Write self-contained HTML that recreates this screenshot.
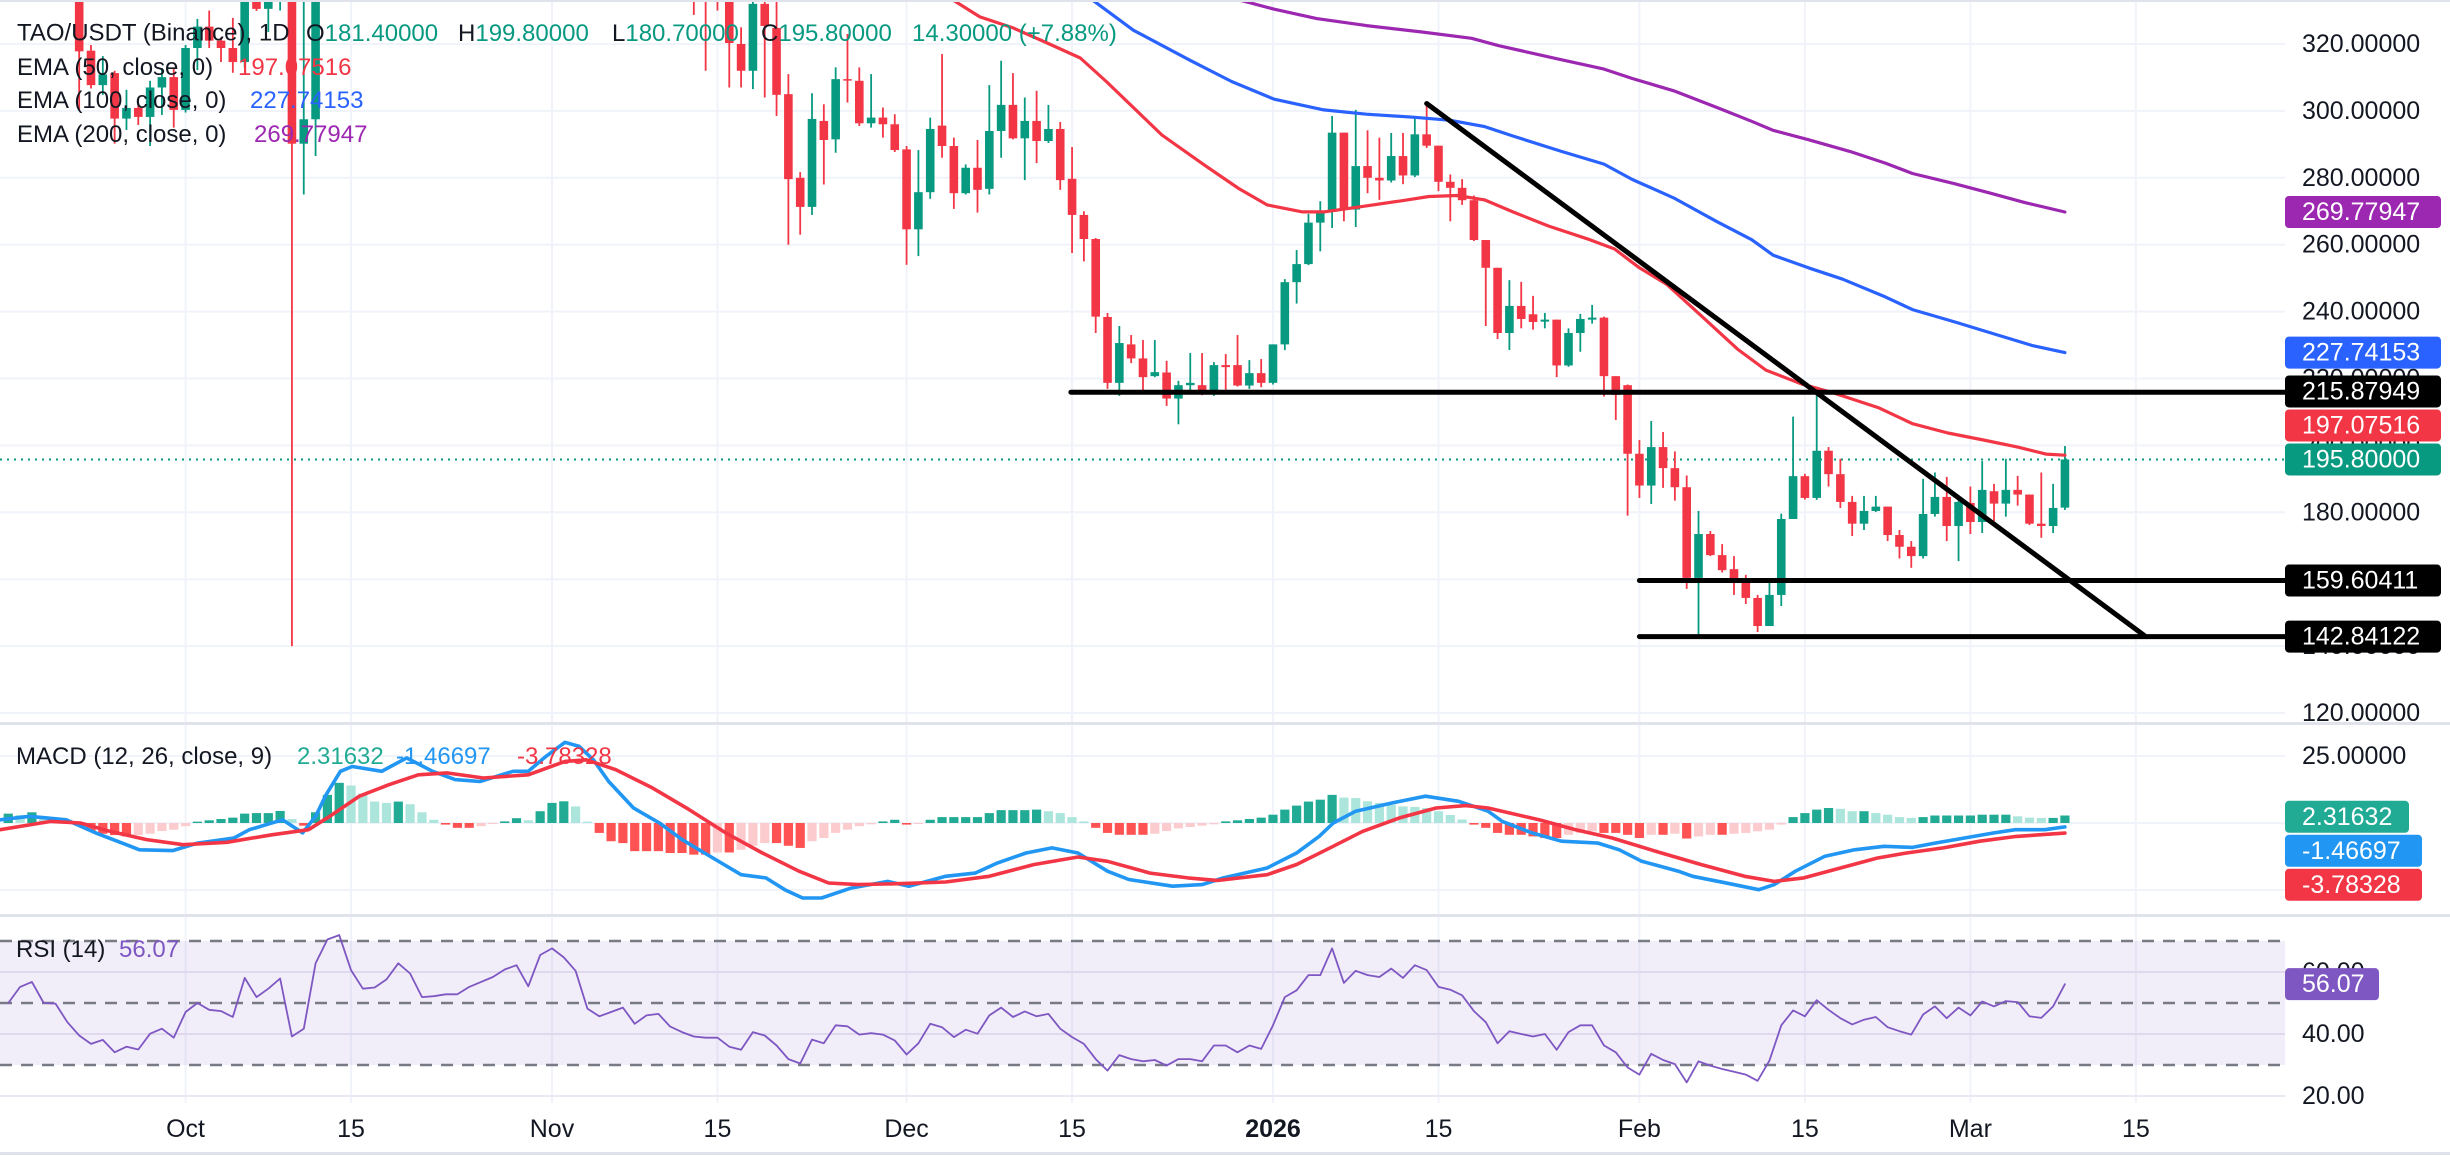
<!DOCTYPE html>
<html><head><meta charset="utf-8"><title>TAO/USDT 1D</title>
<style>
html,body{margin:0;padding:0;background:#fff;}
svg{display:block;font-family:"Liberation Sans",Arial,sans-serif;}
</style></head>
<body>
<svg id="chart" width="2450" height="1156" viewBox="0 0 2450 1156" xmlns="http://www.w3.org/2000/svg">
<rect x="0" y="0" width="2450" height="1156" fill="#ffffff"/>
<g id="grid"></g>
<g id="rsiband"></g>
<g id="plot"></g>
<g id="axes"></g>
<g id="legend">
  <text x="17" y="33" font-size="24" fill="#131722" dominant-baseline="central">TAO/USDT (Binance), 1D</text>
  <text y="33" font-size="24" dominant-baseline="central"><tspan x="306" fill="#131722">O</tspan><tspan fill="#089981">181.40000</tspan><tspan x="458" fill="#131722">H</tspan><tspan fill="#089981">199.80000</tspan><tspan x="612" fill="#131722">L</tspan><tspan fill="#089981">180.70000</tspan><tspan x="761" fill="#131722">C</tspan><tspan fill="#089981">195.80000</tspan><tspan x="912" fill="#089981">14.30000 (+7.88%)</tspan></text>
  <text y="67" font-size="24" dominant-baseline="central"><tspan x="17" fill="#131722">EMA (50, close, 0)</tspan><tspan x="238" fill="#f23645">197.07516</tspan></text>
  <text y="100" font-size="24" dominant-baseline="central"><tspan x="17" fill="#131722">EMA (100, close, 0)</tspan><tspan x="250" fill="#2962ff">227.74153</tspan></text>
  <text y="134" font-size="24" dominant-baseline="central"><tspan x="17" fill="#131722">EMA (200, close, 0)</tspan><tspan x="254" fill="#9c27b0">269.77947</tspan></text>
  <text y="756" font-size="24" dominant-baseline="central"><tspan x="16" fill="#131722">MACD (12, 26, close, 9)</tspan><tspan x="297" fill="#22ab94">2.31632</tspan><tspan x="396" fill="#2196f3">-1.46697</tspan><tspan x="517" fill="#f23645">-3.78328</tspan></text>
  <text y="949" font-size="24" dominant-baseline="central"><tspan x="16" fill="#131722">RSI (14)</tspan><tspan x="119" fill="#7e57c2">56.07</tspan></text>
</g>
<g id="tags"></g>
</svg>
<script>
// ---- data (day index 0 = 2026-01-01) ----
const firstDay = -107;
const opens = [360,352,358,355,346,344,340,318,307.7,311.3,297.7,300.9,298.2,307,310.1,300.3,318.8,325.2,321,318.8,314.6,338,330.5,336,340,290.2,297.5,345,352,365,372,368,380,395,388,402,410,398,405,392,385,396,405,412,400,395,388,398,410,418,405,392,380,372,385,378,366,358,350,345,345,338,320,312,332,324.8,305,280,271.3,297,291.5,309.5,309,296.3,298,296,288.5,264.6,275.7,295.6,289.5,275.4,283,276.7,294,301.8,291.8,297,291,294.6,279.7,268.9,261.7,238.4,218.7,230.2,226,220.7,221.8,214,218,218,215.4,224,224,217.9,221.6,218.7,230.2,248.8,254.2,266.6,269.8,293.5,270.5,283.5,280,279.2,286.5,280.7,293,289.6,278.8,277,273.3,261.4,253.1,233.6,241.7,239.2,237,237.6,223.9,233.6,237.6,238.2,220.7,218,197.5,188,199.5,193.2,187.5,160.4,173.5,167.2,163,159.2,154.4,146,155.3,178,190.8,184.3,198.4,191.4,183.1,176.6,180.4,181.7,173.2,169.7,166.9,179.5,184.6,175.9,182.8,177.1,186.3,182.6,186.7,185.3,176.6,175.9,181.4];
const highs = [372,362,366,360,352,350,342,319.7,316.4,312,306.3,301.8,309,312.8,312.5,319.7,327.5,330,322,327.8,340,342,340,345,350,338,350,358,370,378,376,386,400,398,408,416,414,410,408,396,400,410,418,416,404,398,402,414,424,420,408,396,384,390,388,382,370,362,360,352,350,342,325,333,333,333,311,281.7,305.3,302,313,323,313,311,301,299,289.5,288.3,298,317,292,284,291.3,307.7,315,311.3,304,306,301.8,296.7,289.2,270,262,239.6,235.7,233,231.5,231.5,225.3,219.3,227.6,227.6,224.9,227.3,233,225.5,225.8,230.2,249.7,258.4,269.2,273,298.5,293.5,300.3,294.2,292,293.4,293.4,297.9,302.3,289.6,281,279.6,274.7,261.4,253.1,249.4,248.9,244.7,239.6,237.6,235,239.3,242,238.5,220.7,218.2,201.6,207.3,204,198.2,191,180.4,174.4,170.5,166.9,161.3,155.3,159.2,179.6,208.6,191.5,215.1,199.5,196,184.9,184.9,184.9,181.7,174.7,171.4,190,191.9,190.6,184.9,187.7,195.3,188.5,196,190.9,185.3,191.9,188.5,199.8];
const lows = [348,345,350,342,338,336,300.3,306.7,304.8,290.2,294.3,295.8,289.5,298.8,295,299.5,312.2,318.8,314.6,311.4,313,329.9,323.6,330,140,275,286.5,340,348,360,362,364,376,382,384,398,392,394,388,380,382,392,400,396,390,384,384,394,406,400,388,376,366,368,372,362,354,344,328.7,312,330,307,307,306.5,304,298.5,260,263,268.9,278,287.5,302.5,295.5,295,292,287.7,254,256.6,273.7,286,270.7,275,269.6,275,286,291.5,279.3,284.4,290.4,276.4,257.5,255,233.6,216.9,214.8,224.6,216,220.4,211.8,206.3,216.3,215,214.8,216.6,217.6,216.9,217.4,218.2,228.5,242.4,253.9,258,265,267,265.3,275.4,273.4,278.6,278.1,280.2,288.9,276,267,271.9,261.1,235.7,231.8,228.5,235,234.6,235,220.4,223.5,228,236.4,214.6,207.6,179,184.3,182.5,187.3,183.5,157.1,143.2,166.9,162,155.3,152.6,144.2,146,152,178,183.8,183.7,187.7,181.3,172.9,174.7,180.1,171.4,166.2,163.4,166.2,178.7,171.4,165.4,173.5,173.8,177.4,178.7,182,176.2,172.4,173.8,180.7];
const closes = [352,358,355,346,344,340,317.8,307.7,310.9,297.7,300.9,298.2,307,310.1,300.3,318.8,325.2,321,318.8,314.6,336,330.5,336,340,290.2,297.5,345,352,365,372,368,380,395,388,402,410,398,405,392,385,396,405,412,400,395,388,398,410,418,405,392,380,372,385,378,366,358,350,340,338,338,320.3,312,332,325.4,304.8,279.6,271.3,297.6,291.3,309.5,309.3,296.3,298,296,288.3,264.6,275.7,294.6,289.5,275.4,283,276.4,294,301.8,291.8,297,291,294.6,279.3,268.9,261.7,238.5,218.7,230.6,226,220.4,221.9,214,218,218.7,215.4,224,223.4,217.9,221.6,218.7,230.2,248.8,254.2,266.6,269.8,293.5,270.5,283.5,280,279.2,286.5,280.7,293,289.6,278.8,277,273.3,261.4,253.1,233.6,241.7,237.8,236.9,237.6,223.9,233.6,237.8,238.2,220.7,215.1,197.5,188,199.5,193.2,187.5,160.4,173.5,167.2,162.7,159.2,154.4,146,155.3,178,190.8,184.3,198.4,191.4,183.1,176.6,180.4,181.7,173.2,169.7,166.9,179.5,184.6,175.9,183.1,177.1,186.7,182.6,186.7,185.3,176.6,175.9,181.3,195.8];

const ema50Days = [-27.1,-24.8,-22,-19.1,-16.3,-14.1,-9.4,-5.8,-2.9,-0.5,2.5,4.3,7.3,10.8,13.2,15.6,17.9,20.3,23.3,26.8,28.9,31,33.3,36.3,39.3,41.7,44.7,47.6,51.2,54.1,57.1,60.1,63,65.4,67];
const ema50Vals = [333.2,328.1,324.8,320.3,315.8,308.8,292.8,283.8,276.8,271.9,269.8,269.8,271.3,273.1,274.4,274.7,273.4,269.8,265.6,261.5,258.7,253.1,248.2,238.5,228.8,222.5,218.4,215.5,211.3,206.5,203.7,201.6,199.5,197.4,197.08];
const ema100Days = [-15.3,-11.8,-7,-3.5,0.1,4.3,7.9,12,15,17.9,20.3,24.4,28,30.4,33.9,37.5,40.5,42.3,45.3,48.2,51.8,54.1,57.7,61.3,64.2,67];
const ema100Vals = [333.2,324.1,315.1,308.8,303.5,300.3,299,298.1,297.2,295.3,292.5,287.9,284.1,279.5,274,267,261.5,256.9,253.1,249.7,244.4,240.6,236.9,233,229.9,227.74];
const ema200Days = [-2.9,0.1,3.7,7.9,12.6,16.8,19.1,23.9,28,30.4,33.9,37.5,40.5,42.3,45.3,48.8,51.8,54.1,57.7,60.7,63.6,67];
const ema200Vals = [333.2,330.4,327.6,325.5,323.6,321.7,319.5,315.7,312.5,309.7,306,301.1,296.9,294.2,291.4,287.9,284.4,281.3,278.2,275.4,272.6,269.78];

const macdDays = [-107.7,-105.2,-102.1,-99.6,-95.9,-93.1,-91,-87.9,-86.6,-83.8,-82.1,-81,-80.1,-78.9,-77.9,-75.4,-73.3,-71.1,-69.2,-67.1,-64.3,-63,-61.5,-59.9,-58.7,-57.5,-56.2,-54.1,-51.9,-50,-48.1,-45,-42.9,-41.3,-39.8,-38.2,-35.7,-32.6,-30.8,-27.7,-25.2,-23.3,-20.9,-18.7,-16.5,-14,-12.2,-8.5,-6,-4.2,-0.5,2,3.9,5.1,7,10.1,12.9,15.7,18.2,19.4,21.9,24.4,27.5,29.3,31.2,34.3,35.5,38,41.1,42.4,44.2,46.7,49.2,51.7,54.1,56,58.5,61,62.8,65.3,67];
const macdVals = [1.2,2.5,1.2,-3.7,-10,-10.3,-7.5,-5.6,-2.5,1.2,-3.7,2.5,10.6,19.3,21.1,19.3,24.3,19.3,16.2,15.5,19.3,19.3,24.9,30.1,28.6,23.6,15.5,5.6,0,-6.2,-11.2,-19.3,-20.5,-24.9,-28,-28,-24.3,-21.8,-23.6,-19.9,-18.7,-14.9,-11.2,-9.3,-11.2,-18,-21.1,-23.6,-23,-20.5,-16.8,-11.2,-5,0,4.4,7.5,10,8.1,4.4,0.6,-3.7,-6.8,-7.5,-10,-14.3,-18,-19.9,-22.1,-24.9,-23,-18,-12.4,-10,-8.7,-9.1,-7.5,-5.6,-3.7,-2.5,-2.5,-1.47];
const signalDays = [-107.7,-103.4,-100.9,-98.4,-95.3,-92.2,-88.5,-84.7,-81.6,-79.8,-77.3,-74.8,-72.3,-69.9,-66.8,-63,-59.9,-58.1,-55.6,-52.5,-49.4,-46.3,-43.2,-40.1,-37.6,-35.1,-31.4,-27.7,-24,-20.2,-16.5,-14,-10.4,-7.2,-4.7,-0.5,2,4.5,7.6,10.7,13.8,16.3,18.2,22.5,25.6,28.7,32.4,36.2,39.9,42.4,44.9,48,51.1,53.6,56.7,59.8,62.9,67];
const signalVals = [-2.5,0.6,0,-3.1,-6.2,-8.1,-7.2,-4.4,-2.5,2.5,10,14.3,18,18.7,16.8,18,23,23.6,19.9,13.1,5,-3.7,-11.2,-18,-22.4,-23,-22.6,-22,-19.9,-15.5,-12.7,-14.3,-18.7,-20.5,-21.4,-19.3,-15.5,-10,-3.1,1.9,5.6,6.5,5.6,1.2,-2.5,-5.6,-10.6,-15.5,-19.9,-21.8,-20.5,-16.8,-13.1,-11.2,-9.3,-6.8,-5,-3.78];
const histVals = [3.5,3,4,2.5,1.5,0.5,-1,-3,-4,-4.5,-5,-4.5,-4,-3,-2.5,-1.2,0.5,1,1.5,2,3.5,3.7,3.7,4.5,1.5,-1,4,10.5,15,14,11,8,7.5,8,7,4,1.2,-0.6,-1.8,-1.8,-1.2,-0.4,0.6,1.8,1,4.4,7.5,8.1,6.2,0.5,-3.7,-6.8,-7.5,-10.5,-10.5,-10.5,-11.2,-11.2,-11.8,-11.8,-11,-11,-10,-8.5,-7.5,-7.5,-8.5,-9.3,-6.8,-5.6,-3.7,-2.5,-1.2,-0.5,0.6,1.2,-0.6,-0.3,1.2,2.2,2.2,2.2,2.2,3.7,4.8,4.8,4.8,5,4.4,3.7,2.2,0.6,-1.8,-3.7,-4.4,-4.4,-4.4,-4,-3,-2,-1.5,-1,-0.5,0.6,1,1.5,2,3.1,5,6.5,8,8.7,10.5,9.5,9.3,8.1,7.5,6.8,6.2,6,5.6,4.4,3,1.3,-0.6,-1.8,-3.7,-4.4,-4.4,-5,-5.6,-5.6,-4.4,-3.7,-3.1,-3.7,-3.7,-4.4,-5.6,-4.4,-4.4,-4,-5.8,-5,-4.4,-4.4,-4,-3.7,-3.1,-2.5,-0.6,2.2,3.7,5,5.6,5.3,4.4,4.4,3.7,3.1,2.2,1.9,2.2,2.8,2.8,2.8,2.8,3.1,3.1,3.1,2.5,2,1.9,1.9,2.8];
const rsiVals = [50,55.2,56.8,50,49.8,43.8,39.5,36.8,38.1,34.1,35.9,35,40.1,41.7,38.8,47.1,50,47.8,47.4,45.5,58.1,51.9,54.6,57.9,39.2,41.7,62.8,70.5,71.9,60.6,54.6,55,57.6,62.8,59.5,51.9,52.2,52.8,52.8,55.2,56.8,58.4,60.8,62.2,55.4,65.5,67.6,64.7,60.4,48.2,45.7,47.1,48.5,43.3,46,46.5,42.4,40.6,39.2,38.8,38.8,35.9,34.9,40.6,39.5,36.3,31.9,30.5,38.2,37,42.8,42.5,39.8,40.3,39.8,37.9,33.4,37,43.3,42.2,39,41.4,40.1,46,48.5,45.5,47.3,45.7,46.5,41.7,39,36.8,31.9,28.2,33.2,31.9,31.2,31.6,29.8,31.9,31.9,31.2,36.3,36.3,34.1,36.3,35.2,42.8,51.9,54.1,59,59,67.6,56.5,60.4,59,58.4,61.1,58.1,62.2,60.6,55.2,54.3,52.5,47.4,43.8,37,40.9,40,39.2,40,34.9,40.6,42.8,42.8,36.3,34.1,29.2,26.9,33.6,31.6,30.3,24.4,31.2,29.8,28.7,27.8,26.9,24.9,31.4,42.8,47.6,45.7,50.9,47.8,45.1,43.1,44.6,45.5,42.2,40.9,39.8,46.3,48.9,45.1,48.5,46,50.5,48.9,50.6,50.3,45.7,45.2,48.9,56.07];

const priceTicks = [320,300,280,260,240,220,200,180,160,140,120];
const macdTicks = [25,0,-25];
const rsiTicks = [60,40,20];
const rsiLevels = [70,50,30];
const dateTickDays = [-92,-78,-61,-47,-31,-17,0,14,31,45,59,73];
const dateTickLabels = ["Oct","15","Nov","15","Dec","15","2026","15","Feb","15","Mar","15"];

const hLevels = [215.87949,159.60411,142.84122];
const hLevelStartDays = [-17.1,31,31];
const trendDays = [13.0,73.7];
const trendPrices = [302.2,143.2];
const lastPrice = 195.8;

// ---- scales ----
const PLOT_R = 2285;
const xOf = d => 1273 + d*11.82;
const yP = p => 44 + (320-p)*3.345;
const yM = v => 823 - v*2.68;
const yR = v => 941 + (70-v)*3.1;
const NS = "http://www.w3.org/2000/svg";
function mk(tag, attrs, parent){
  const e = document.createElementNS(NS, tag);
  for (const k in attrs) e.setAttribute(k, attrs[k]);
  parent.appendChild(e);
  return e;
}
const gGrid = document.getElementById('grid');
const gBand = document.getElementById('rsiband');
const gPlot = document.getElementById('plot');
const gAxes = document.getElementById('axes');
const gTags = document.getElementById('tags');

// grid
dateTickDays.forEach(d => {
  const l = mk('line', {x1:xOf(d), x2:xOf(d), y1:2, y2:1103, stroke:'#f0f3fa', 'stroke-width':2}, gGrid);
  
  
});
priceTicks.forEach(p => {
  const l = mk('line', {x1:0, x2:PLOT_R, y1:yP(p), y2:yP(p), stroke:'#f0f3fa', 'stroke-width':2}, gGrid);
  
  
});
[25,0,-25].forEach(v => {
  const l = mk('line', {x1:0, x2:PLOT_R, y1:yM(v), y2:yM(v), stroke:'#f0f3fa', 'stroke-width':2}, gGrid);
  
  
});
[60,40,20].forEach(v => {
  const l = mk('line', {x1:0, x2:PLOT_R, y1:yR(v), y2:yR(v), stroke:'#ebe8f3', 'stroke-width':2}, gGrid);
  
  
});
// separators
[[0,2],[722,3],[914,3],[1152,3]].forEach(s => {
  const r = mk('rect', {x:0, y:s[0], width:2450, height:s[1], fill:'#e0e3eb'}, gGrid);
  
  
});

// RSI band
const band = mk('rect', {x:0, y:yR(70), width:PLOT_R, height:yR(30)-yR(70), fill:'#7e57c2', 'fill-opacity':0.1}, gBand);


rsiLevels.forEach(v => {
  const l = mk('line', {x1:0, x2:PLOT_R, y1:yR(v), y2:yR(v), stroke:'#787b86', 'stroke-width':2.5, 'stroke-dasharray':'12 9'}, gBand);
  
  
});

// main pane clip
const defs = mk('defs', {}, gPlot);
const cp = mk('clipPath', {id:'mainclip'}, defs);
mk('rect', {x:0, y:2, width:PLOT_R, height:720}, cp);
const mainG = mk('g', {'clip-path':'url(#mainclip)'}, gPlot);



// last price dotted line
const lp = mk('line', {x1:0, x2:PLOT_R, y1:yP(lastPrice), y2:yP(lastPrice), stroke:'#089981', 'stroke-width':2, 'stroke-dasharray':'2 5'}, mainG);



// candles
for (let i = 0; i < closes.length; i++) {
  const d = firstDay + i;
  const x = xOf(d);
  const up = closes[i] >= opens[i];
  const col = up ? '#089981' : '#f23645';
  const w = mk('line', {x1:x, x2:x, y1:yP(highs[i]), y2:yP(lows[i]), stroke:col, 'stroke-width':1.8}, mainG);
  
  
  const top = yP(Math.max(opens[i], closes[i]));
  const bot = yP(Math.min(opens[i], closes[i]));
  const b = mk('rect', {x:x-4.3, y:top, width:8.6, height:Math.max(1.5, bot-top), fill:col}, mainG);
  
  
}

// EMA lines
function poly(days, vals, yf, color, width, parent, name){
  const pts = days.map((d,i) => xOf(d).toFixed(1) + ',' + yf(vals[i]).toFixed(1)).join(' ');
  const p = mk('polyline', {points:pts, fill:'none', stroke:color, 'stroke-width':width, 'stroke-linejoin':'round', 'stroke-linecap':'round'}, parent);
  
  
  return p;
}
poly(ema200Days, ema200Vals, yP, '#9c27b0', 3.2, mainG, 'ema200-line');
poly(ema100Days, ema100Vals, yP, '#2962ff', 3.2, mainG, 'ema100-line');
poly(ema50Days, ema50Vals, yP, '#f23645', 3.2, mainG, 'ema50-line');

// drawings
hLevels.forEach((p, i) => {
  const l = mk('line', {x1:xOf(hLevelStartDays[i]), x2:PLOT_R, y1:yP(p), y2:yP(p), stroke:'#000', 'stroke-width':5, 'stroke-linecap':'round'}, mainG);
  
  
});
const tl = mk('line', {x1:xOf(trendDays[0]), y1:yP(trendPrices[0]), x2:xOf(trendDays[1]), y2:yP(trendPrices[1]), stroke:'#000', 'stroke-width':5, 'stroke-linecap':'round'}, mainG);



// MACD histogram
for (let i = 0; i < histVals.length; i++) {
  const v = histVals[i], pv = i > 0 ? histVals[i-1] : v;
  let col;
  if (v >= 0) col = v >= pv ? '#22ab94' : '#ace5dc';
  else col = v <= pv ? '#ff5252' : '#fccbcd';
  const x = xOf(firstDay + i);
  const y0 = yM(0), y1 = yM(v);
  const r = mk('rect', {x:x-4.6, y:Math.min(y0,y1), width:9.2, height:Math.max(1, Math.abs(y1-y0)), fill:col}, gPlot);
  
  
}
poly(macdDays, macdVals, yM, '#2196f3', 3.6, gPlot, 'macd-line');
poly(signalDays, signalVals, yM, '#f23645', 3.6, gPlot, 'signal-line');

// RSI line
const rsiDays = rsiVals.map((v,i) => firstDay + i);
poly(rsiDays, rsiVals, yR, '#7e57c2', 1.8, gPlot, 'rsi-line');

// axis labels
function txt(x, y, s, attrs, parent, name){
  const t = mk('text', Object.assign({x:x, y:y, 'dominant-baseline':'central'}, attrs), parent);
  t.textContent = s;
  
  
  return t;
}
priceTicks.forEach(p => txt(2302, yP(p), p.toFixed(5), {'font-size':25, fill:'#131722'}, gAxes, 'price-axis-label'));
macdTicks.forEach(v => txt(2302, yM(v), v.toFixed(5), {'font-size':25, fill:'#131722'}, gAxes, 'macd-axis-label'));
rsiTicks.forEach(v => txt(2302, yR(v), v.toFixed(2), {'font-size':25, fill:'#131722'}, gAxes, 'rsi-axis-label'));
dateTickDays.forEach((d, i) => {
  const bold = dateTickLabels[i] === '2026';
  txt(xOf(d), 1129, dateTickLabels[i], {'font-size':25, fill:'#131722', 'text-anchor':'middle', 'font-weight': bold ? 'bold' : 'normal'}, gAxes, 'time-axis-label');
});

// tags
function placeTags(list, yf, dir){
  list.forEach(t => t.y = yf(t.v));
  list.sort((a,b) => a.y - b.y);
  if (dir === 'up') {
    for (let i = list.length-2; i >= 0; i--) if (list[i].y > list[i+1].y - 34) list[i].y = list[i+1].y - 34;
  } else {
    for (let i = 1; i < list.length; i++) if (list[i].y < list[i-1].y + 34) list[i].y = list[i-1].y + 34;
  }
  list.forEach(t => {
    const r = mk('rect', {x:2285, y:t.y-16, width:t.w, height:32, rx:4, fill:t.c}, gTags);
    
    
    txt(2302, t.y, t.s, {'font-size':25, fill:'#ffffff'}, gTags, 'axis-value-tag-text');
  });
}
placeTags([
  {v:269.77947, s:'269.77947', c:'#9c27b0', w:156},
  {v:227.74153, s:'227.74153', c:'#2962ff', w:156},
  {v:215.87949, s:'215.87949', c:'#000000', w:156},
  {v:197.07516, s:'197.07516', c:'#f23645', w:156},
  {v:195.8, s:'195.80000', c:'#089981', w:156},
  {v:159.60411, s:'159.60411', c:'#000000', w:156},
  {v:142.84122, s:'142.84122', c:'#000000', w:156}
], yP, 'up');
placeTags([
  {v:2.31632, s:'2.31632', c:'#22ab94', w:124},
  {v:-1.46697, s:'-1.46697', c:'#2196f3', w:137},
  {v:-3.78328, s:'-3.78328', c:'#f23645', w:137}
], yM, 'down');
placeTags([{v:56.07, s:'56.07', c:'#7e57c2', w:94}], yR, 'down');
</script>
</body></html>
